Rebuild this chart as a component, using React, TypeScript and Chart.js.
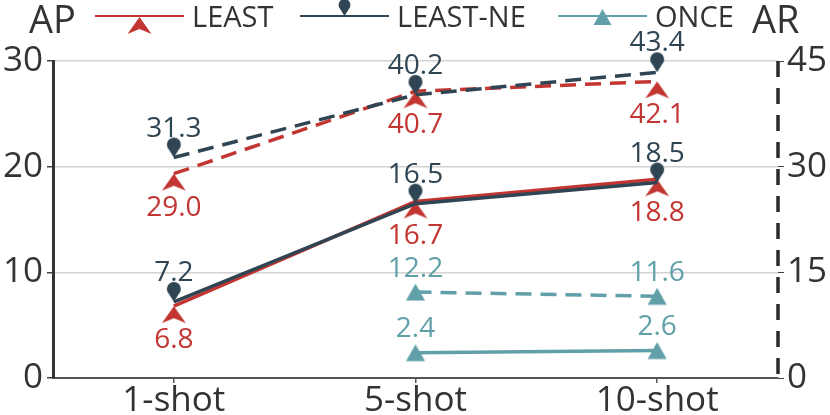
import { useEffect, useRef } from 'react'
import Chart from 'chart.js/auto'

const categories = ['1-shot', '5-shot', '10-shot']
const leastAP = [6.8, 16.7, 18.8]
const leastAR = [29.0, 40.7, 42.1]
const leastNeAP = [7.2, 16.5, 18.5]
const leastNeAR = [31.3, 40.2, 43.4]
const onceAP = [null, 2.4, 2.6]
const onceAR = [null, 12.2, 11.6]
const apRange = [0, 30, 10]
const arRange = [0, 45, 15]

const RED = '#c23531'
const NAVY = '#2f4554'
const TEAL = '#61a0a8'
const FONT = "'Open Sans', sans-serif"

// marker paths, anchored on the data point
const pathArrow = (ctx: CanvasRenderingContext2D, x: number, y: number, s = 1) => {
    ctx.beginPath()
    ctx.moveTo(x, y)
    ctx.lineTo(x + 12 * s, y + 17 * s)
    ctx.lineTo(x, y + 12 * s)
    ctx.lineTo(x - 12 * s, y + 17 * s)
    ctx.closePath()
}
const pathPin = (ctx: CanvasRenderingContext2D, x: number, y: number, s = 1) => {
    const cy = y - 13 * s
    ctx.beginPath()
    ctx.arc(x, cy, 7 * s, Math.PI * 0.75, Math.PI * 0.25)
    ctx.lineTo(x, y)
    ctx.closePath()
}
const pathTriangle = (ctx: CanvasRenderingContext2D, x: number, y: number, s = 1) => {
    ctx.beginPath()
    ctx.moveTo(x, y - 8.5 * s)
    ctx.lineTo(x + 9.5 * s, y + 8.5 * s)
    ctx.lineTo(x - 9.5 * s, y + 8.5 * s)
    ctx.closePath()
}

const makeMarker = (w: number, h: number, color: string, draw: typeof pathArrow) => {
    const c = document.createElement('canvas')
    c.width = w
    c.height = h
    const ctx = c.getContext('2d')!
    ctx.fillStyle = color
    draw(ctx, w / 2, h / 2)
    ctx.fill()
    return c
}

// Chart.js has no dashed axis border, so the right axis line is drawn here
const dashedAxisPlugin = {
    id: 'dashedAxis',
    beforeDatasetsDraw(chart: any) {
        const ctx = chart.ctx
        const s = chart.scales.y1
        ctx.save()
        ctx.strokeStyle = '#2a2a2a'
        ctx.lineWidth = 3.5
        ctx.setLineDash([16, 11])
        ctx.beginPath()
        ctx.moveTo(s.left, chart.chartArea.top)
        ctx.lineTo(s.left, chart.chartArea.bottom)
        ctx.stroke()
        ctx.restore()
    }
}

const labelPlugin = {
    id: 'valueLabels',
    afterDatasetsDraw(chart: any) {
        const ctx = chart.ctx
        ctx.save()
        ctx.font = `28px ${FONT}`
        ctx.textAlign = 'center'
        ctx.textBaseline = 'alphabetic'
        chart.data.datasets.forEach((ds: any, i: number) => {
            const meta = chart.getDatasetMeta(i)
            ctx.fillStyle = ds.borderColor
            meta.data.forEach((pt: any, j: number) => {
                const v = ds.data[j]
                if (v == null) return
                ctx.fillText(v.toFixed(1), pt.x, pt.y + ds.labelOffset)
            })
        })
        ctx.restore()
    }
}

const legendPlugin = {
    id: 'customLegend',
    afterDraw(chart: any) {
        const ctx = chart.ctx
        ctx.save()
        ctx.fillStyle = '#333'
        ctx.textBaseline = 'alphabetic'
        ctx.textAlign = 'left'
        ctx.font = `38px ${FONT}`
        ctx.fillText('AP', 29, 33)
        ctx.fillText('AR', 752, 33)

        const items = [
            { text: 'LEAST', color: RED, x0: 95, draw: pathArrow, my: 17, s: 1 },
            { text: 'LEAST-NE', color: NAVY, x0: 300, draw: pathPin, my: 16, s: 0.85 },
            { text: 'ONCE', color: TEAL, x0: 558, draw: pathTriangle, my: 17, s: 0.95 },
        ]
        ctx.font = `29px ${FONT}`
        items.forEach(it => {
            ctx.strokeStyle = it.color
            ctx.lineWidth = 2
            ctx.beginPath()
            ctx.moveTo(it.x0, 16)
            ctx.lineTo(it.x0 + 89, 16)
            ctx.stroke()
            ctx.fillStyle = it.color
            it.draw(ctx, it.x0 + 44.5, it.my, it.s)
            ctx.fill()
            ctx.fillStyle = '#333'
            ctx.fillText(it.text, it.x0 + 97, 27)
        })
        ctx.restore()
    }
}

const LineChart = () => {
    const chartRef = useRef<HTMLCanvasElement>(null)

    useEffect(() => {
        if (!chartRef.current) return
        const arrow = makeMarker(26, 38, RED, pathArrow)
        const pin = makeMarker(16, 44, NAVY, pathPin)
        const tri = makeMarker(22, 20, TEAL, pathTriangle)

        const series = (label: string, data: (number | null)[], color: string, marker: HTMLCanvasElement, axis: string, dashed: boolean, labelOffset: number) => ({
            label,
            data,
            yAxisID: axis,
            borderColor: color,
            backgroundColor: color,
            borderWidth: 3.5,
            borderDash: dashed ? [16, 9] : [],
            pointStyle: marker,
            pointRadius: 10,
            clip: false,
            labelOffset,
        })

        const myChart = new Chart(chartRef.current, {
            type: 'line',
            data: {
                labels: categories,
                datasets: [
                    series('LEAST-NE', leastNeAP, NAVY, pin, 'y', false, -21),
                    series('LEAST-NE AR', leastNeAR, NAVY, pin, 'y1', true, -21),
                    series('LEAST', leastAP, RED, arrow, 'y', false, 42),
                    series('LEAST AR', leastAR, RED, arrow, 'y1', true, 42),
                    series('ONCE', onceAP, TEAL, tri, 'y', false, -15.5),
                    series('ONCE AR', onceAR, TEAL, tri, 'y1', true, -15.5),
                ] as any,
            },
            options: {
                animation: false,
                responsive: false,
                layout: { padding: { top: 61, left: 0, right: 0, bottom: 0 } },
                plugins: {
                    legend: { display: false },
                    tooltip: { enabled: false },
                },
                scales: {
                    x: {
                        offset: true,
                        afterFit: (s: any) => { s.height = 37 },
                        grid: { drawOnChartArea: false, tickLength: 5, tickColor: '#555', lineWidth: 1.5 },
                        border: { color: '#555', width: 2 },
                        ticks: { color: '#333', font: { family: FONT, size: 35 }, padding: -3 },
                    },
                    y: {
                        position: 'left',
                        min: apRange[0],
                        max: apRange[1],
                        afterFit: (s: any) => { s.width = 53 },
                        grid: { color: '#d2d2d2', lineWidth: 1.5, tickColor: '#444', tickLength: 6 },
                        border: { color: '#333', width: 3 },
                        ticks: { stepSize: apRange[2], color: '#333', font: { family: FONT, size: 35 }, padding: 4 },
                    },
                    y1: {
                        position: 'right',
                        min: arRange[0],
                        max: arRange[1],
                        afterFit: (s: any) => { s.width = 52 },
                        grid: { drawOnChartArea: false, tickColor: '#444', tickLength: 6 },
                        border: { display: false },
                        ticks: { stepSize: arRange[2], color: '#333', font: { family: FONT, size: 35 }, padding: 3 },
                    },
                },
            },
            plugins: [dashedAxisPlugin, labelPlugin, legendPlugin],
        })

        return () => {
            myChart.destroy()
        }
    }, [])

    return <canvas ref={chartRef} width={830} height={415} style={{ display: 'block' }} />
}

export default function App() {
    return (
        <div style={{ position: 'absolute', left: 0, top: 0, width: 830, height: 415, background: '#fff' }}>
            <LineChart />
        </div>
    )
}
